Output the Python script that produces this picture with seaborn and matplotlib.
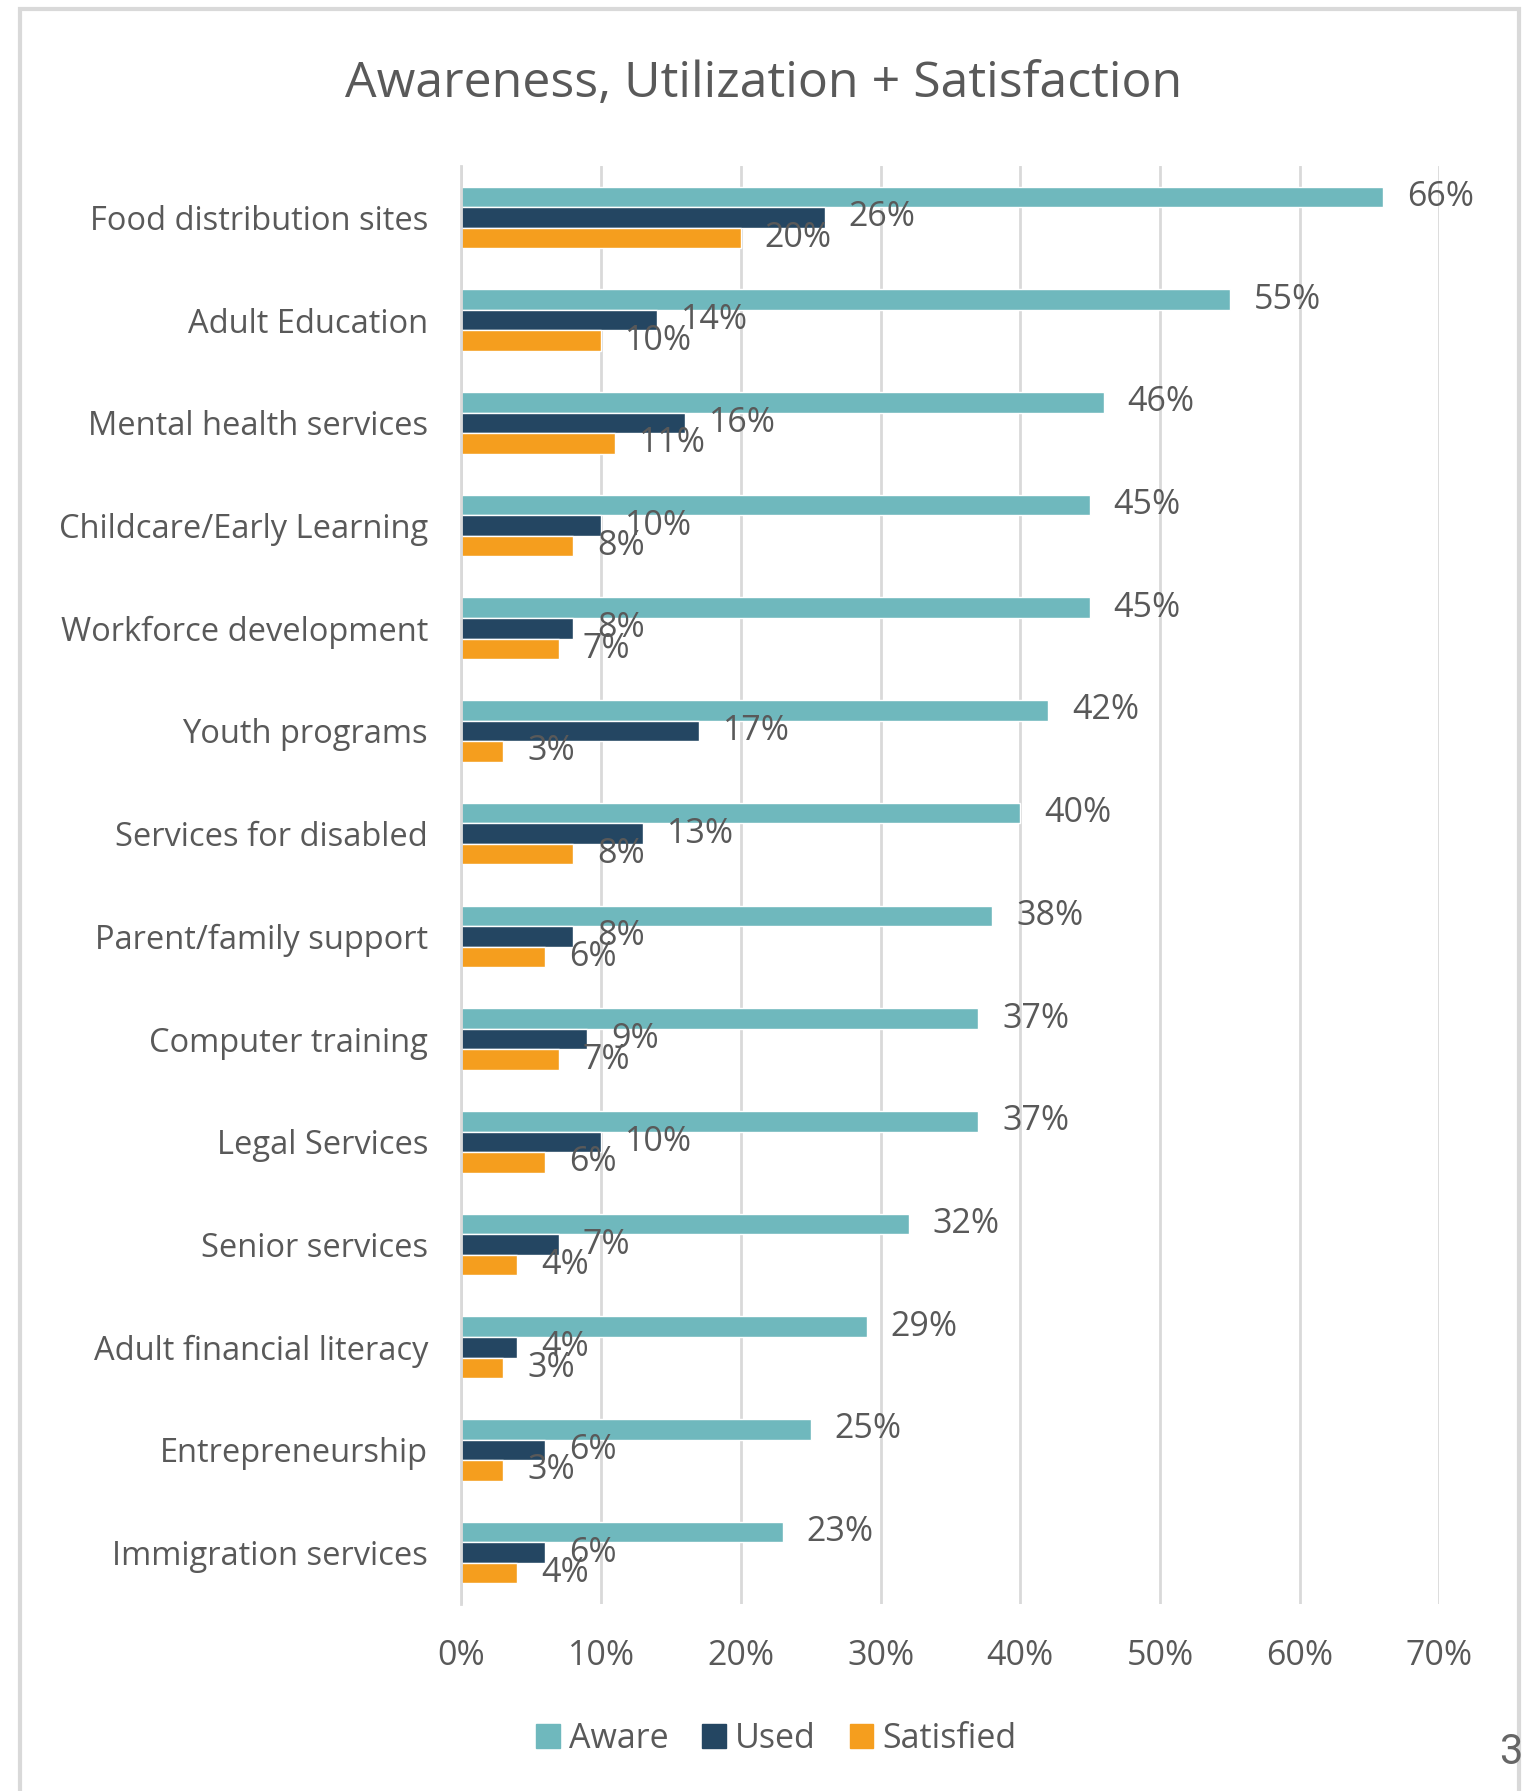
import pandas as pd
import matplotlib.pyplot as plt
import seaborn as sns
from matplotlib.patches import Rectangle

# -------------------------
# data
# -------------------------
categories = ["Food distribution sites", "Adult Education", "Mental health services",
              "Childcare/Early Learning", "Workforce development", "Youth programs",
              "Services for disabled", "Parent/family support", "Computer training",
              "Legal Services", "Senior services", "Adult financial literacy",
              "Entrepreneurship", "Immigration services"]
aware = [66, 55, 46, 45, 45, 42, 40, 38, 37, 37, 32, 29, 25, 23]
used = [26, 14, 16, 10, 8, 17, 13, 8, 9, 10, 7, 4, 6, 6]
satisfied = [20, 10, 11, 8, 7, 3, 8, 6, 7, 6, 4, 3, 3, 4]
series_names = ["Aware", "Used", "Satisfied"]
colors = ["#6FB8BD", "#244662", "#F59E1E"]
x_ticks = [0, 10, 20, 30, 40, 50, 60, 70]

df = pd.DataFrame({"category": categories, "Aware": aware, "Used": used, "Satisfied": satisfied})
long_df = df.melt(id_vars="category", var_name="series", value_name="value")

text_color = "#595959"
grid_color = "#D9D9D9"

sns.set_style("white")
plt.rcParams['font.family'] = ['Open Sans', 'DejaVu Sans']

fig = plt.figure(figsize=(15.28, 17.91), dpi=100)
ax = fig.add_axes([0.302, 0.1044, 0.640, 0.8029])

sns.barplot(data=long_df, y="category", x="value", hue="series", order=categories,
            hue_order=series_names, palette=colors, orient="h", width=0.6,
            saturation=1, ax=ax, legend=False)

for cont in ax.containers:
    ax.bar_label(cont, fmt="%d%%", padding=17, fontsize=24.5, color=text_color)

ax.set_xlim(0, 70)
ax.set_ylim(13.5, -0.5)
ax.set_xticks(x_ticks)
ax.set_xticklabels([f"{t}%" for t in x_ticks])
ax.set_xlabel("")
ax.set_ylabel("")
ax.xaxis.grid(True, color=grid_color, linewidth=2)
ax.set_axisbelow(True)
for s in ["top", "right", "bottom"]:
    ax.spines[s].set_visible(False)
ax.spines["left"].set_color(grid_color)
ax.spines["left"].set_linewidth(2)
ax.tick_params(axis="x", length=0, pad=25, labelsize=24.5, labelcolor=text_color)
ax.tick_params(axis="y", length=0, pad=24, labelsize=23.5, labelcolor=text_color)

fig.text(0.5, 0.953, "Awareness, Utilization + Satisfaction", ha="center", va="center",
         fontsize=36, color=text_color)

# legend below the axis
handles = [Rectangle((0, 0), 1, 1, color=c) for c in colors]
fig.legend(handles, series_names, loc="center", bbox_to_anchor=(0.508, 0.029), ncol=3,
           frameon=False, fontsize=24.5, labelcolor=text_color, handlelength=0.7,
           handleheight=0.7, handletextpad=0.25, columnspacing=1.0)

# chart frame + page-number fragment
fig.patches.append(Rectangle((20 / 1528, -0.1), 1499 / 1528, 1.1 - 9 / 1791,
                             transform=fig.transFigure, fill=False,
                             edgecolor=grid_color, linewidth=3))
fig.text(1499 / 1528, 1 - 1753 / 1791, "3", ha="left", va="center", fontsize=30,
         color="#666666", family=["Roboto", "DejaVu Sans"])

fig.savefig("out.png", dpi=100)
